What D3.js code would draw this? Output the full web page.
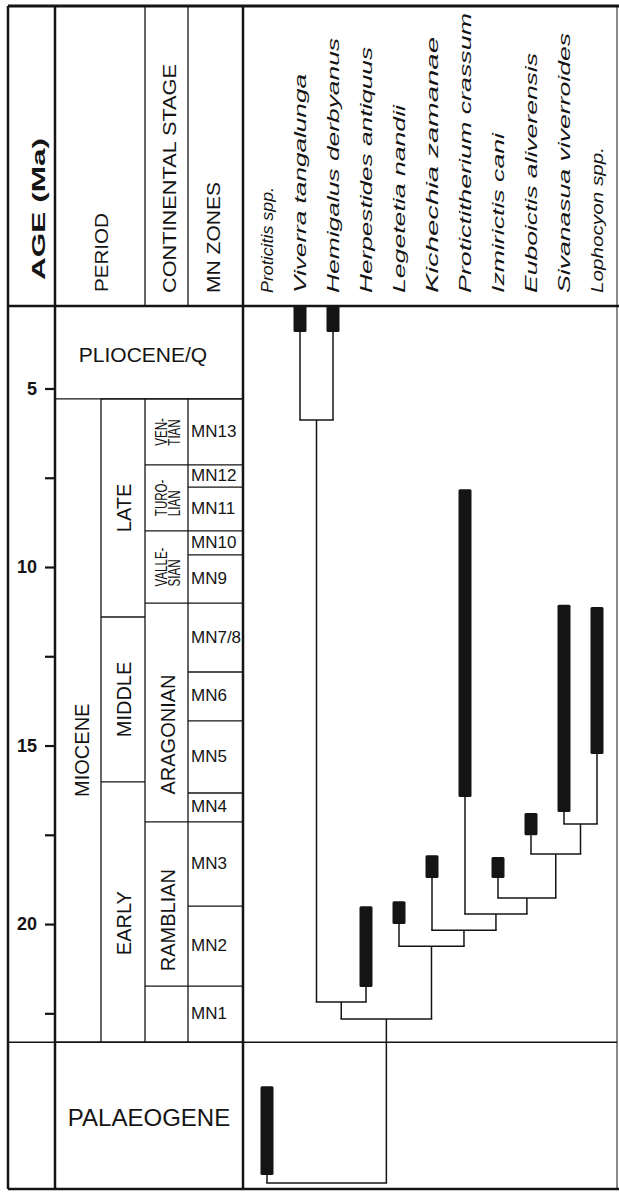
<!DOCTYPE html>
<html><head><meta charset="utf-8">
<script src="https://cdn.jsdelivr.net/npm/d3@7"></script>
<style>body{margin:0;background:#fff}svg{display:block}</style>
</head><body>
<script>
// ---------- DATA ----------
const species = ["Proticitis spp.","Viverra tangalunga","Hemigalus derbyanus","Herpestides antiquus","Legetetia nandii","Kichechia zamanae","Protictitherium crassum","Izmirictis cani","Euboictis aliverensis","Sivanasua viverroides","Lophocyon spp."];
const firstAppearance = [27.03, 3.42, 3.42, 21.76, 20.00, 18.71, 16.44, 18.71, 17.51, 16.86, 15.24];
const lastAppearance  = [24.54, 0, 0, 19.50, 19.36, 18.07, 7.82, 18.12, 16.89, 11.06, 11.12];

const nodeIds = ["VH","VHH","SL","ESL","IESL","PI","KP","LK","ING","ROOT"];
const nodeChildren = [
  ["Viverra tangalunga","Hemigalus derbyanus"],
  ["VH","Herpestides antiquus"],
  ["Sivanasua viverroides","Lophocyon spp."],
  ["Euboictis aliverensis","SL"],
  ["Izmirictis cani","ESL"],
  ["Protictitherium crassum","IESL"],
  ["Kichechia zamanae","PI"],
  ["Legetetia nandii","KP"],
  ["VHH","LK"],
  ["Proticitis spp.","ING"]
];
const nodeAges = [5.88, 22.18, 17.20, 18.04, 19.27, 19.72, 20.17, 20.62, 22.66, 27.25];

const ageTop = 2.69, ageBottom = 27.42;
const tickValues = [5, 7.5, 10, 12.5, 15, 17.5, 20, 22.5];

const periods = ["PLIOCENE/Q","MIOCENE","PALAEOGENE"];
const periodStart = [ageTop, 5.29, 23.31];
const periodEnd = [5.29, 23.31, ageBottom];

const epochs = ["LATE","MIDDLE","EARLY"];
const epochStart = [5.29, 11.40, 16.02];
const epochEnd = [11.40, 16.02, 23.31];

const stages = [["VEN-","TIAN"],["TURO-","LIAN"],["VALLE-","SIAN"],["ARAGONIAN"],["RAMBLIAN"],[]];
const stageStart = [5.29, 7.14, 8.99, 11.01, 17.14, 21.74];
const stageEnd = [7.14, 8.99, 11.01, 17.14, 21.74, 23.31];

const mnZones = ["MN13","MN12","MN11","MN10","MN9","MN7/8","MN6","MN5","MN4","MN3","MN2","MN1"];
const mnStart = [5.29, 7.14, 7.76, 8.99, 9.66, 11.01, 12.94, 14.31, 16.33, 17.14, 19.50, 21.74];
const mnEnd = [7.14, 7.76, 8.99, 9.66, 11.01, 12.94, 14.31, 16.33, 17.14, 19.50, 21.74, 23.31];

const headerLabels = ["AGE (Ma)","PERIOD","CONTINENTAL STAGE","MN ZONES"];

// ---------- STYLE / LAYOUT ----------
const W = 619, H = 1192;
const colX = {left: 8, age: 55, epoch: 101, stage: 145, mn: 188, chart: 243, right: 617};
const topY = 6, headY = 306, botY = 1189;
const ink = "#141414";
const FONT = "'Liberation Sans', Arial, Helvetica, sans-serif";
const speciesLabelLen = {"Proticitis spp.":106,"Viverra tangalunga":219,"Hemigalus derbyanus":255,"Herpestides antiquus":246,"Legetetia nandii":188,"Kichechia zamanae":256,"Protictitherium crassum":280,"Izmirictis cani":160,"Euboictis aliverensis":240,"Sivanasua viverroides":260,"Lophocyon spp.":146};
const headerStyle = [
  {x: 45, y: 280, len: 142, size: 18, weight: "bold"},
  {x: 108, y: 292, len: 79, size: 18, weight: "normal"},
  {x: 176, y: 293, len: 229, size: 18, weight: "normal"},
  {x: 220, y: 293, len: 111, size: 18, weight: "normal"}
];

const svg = d3.select("body").append("svg").attr("width", W).attr("height", H)
  .style("font-family", FONT);

const y = d3.scaleLinear().domain([ageTop, ageBottom]).range([headY, botY]).clamp(true);
const x = d3.scalePoint().domain(species).range([267, 597]);

function line(x1, y1, x2, y2, w) {
  svg.append("line").attr("x1", x1).attr("y1", y1).attr("x2", x2).attr("y2", y2)
    .attr("stroke", ink).attr("stroke-width", w || 1.3);
}
function rotText(px, py, txt, o) {
  const t = svg.append("text")
    .attr("transform", `translate(${px},${py}) rotate(-90)`)
    .attr("text-anchor", o.anchor || "start")
    .attr("font-size", o.size).attr("font-weight", o.weight || "normal")
    .attr("font-style", o.italic ? "italic" : "normal")
    .attr("fill", ink).text(txt);
  if (o.len) t.attr("textLength", o.len).attr("lengthAdjust", "spacingAndGlyphs");
  return t;
}

// ---------- header ----------
headerLabels.forEach((h, i) => {
  const s = headerStyle[i];
  rotText(s.x, s.y, h, {size: s.size, weight: s.weight, len: s.len});
});
species.forEach(s => {
  rotText(x(s) + 6, 293, s, {size: 17, italic: true, len: speciesLabelLen[s]});
});

// ---------- chronostratigraphy cells ----------
periods.forEach((p, i) => {
  const y0 = y(periodStart[i]), y1 = y(periodEnd[i]);
  if (p === "MIOCENE") {
    rotText((colX.age + colX.epoch) / 2 + 11, y1 - 292, p, {size: 20, anchor: "middle"});
  } else {
    svg.append("text").attr("x", p === "PALAEOGENE" ? 149 : 143)
      .attr("y", (y0 + y1) / 2 + 4)
      .attr("text-anchor", "middle").attr("dominant-baseline", "middle")
      .attr("font-size", p === "PALAEOGENE" ? 24 : 21).attr("fill", ink).text(p);
  }
  if (i > 0) line(colX.age, y0, colX.chart, y0, 1.3);
});
epochs.forEach((e, i) => {
  const y0 = y(epochStart[i]), y1 = y(epochEnd[i]);
  line(colX.epoch, y0, colX.stage, y0, 1.3);
  rotText((colX.epoch + colX.stage) / 2 + 8, (y0 + y1) / 2 + (i === 2 ? 11 : 0), e, {size: 20, anchor: "middle"});
});
stages.forEach((s, i) => {
  const y0 = y(stageStart[i]), y1 = y(stageEnd[i]);
  line(colX.stage, y0, colX.mn, y0, 1.3);
  const mid = (y0 + y1) / 2;
  if (s.length === 2) {
    const texts = s.map((ln, k) => rotText(colX.stage + 22 + k * 13, 0, ln, {size: 16}));
    const lens = texts.map(t => t.node().getComputedTextLength() * 0.72);
    const maxLen = d3.max(lens);
    texts.forEach((t, k) => {
      t.attr("transform", `translate(${colX.stage + 22 + k * 13},${mid + maxLen / 2}) rotate(-90)`)
        .attr("textLength", lens[k]).attr("lengthAdjust", "spacingAndGlyphs");
    });
  } else if (s.length === 1) {
    rotText((colX.stage + colX.mn) / 2 + 8, mid + (s[0] === "ARAGONIAN" ? 22 : 16), s[0], {size: 20, anchor: "middle"});
  }
});
mnZones.forEach((m, i) => {
  const y0 = y(mnStart[i]), y1 = y(mnEnd[i]);
  line(colX.mn, y0, colX.chart, y0, 1.3);
  svg.append("text").attr("x", colX.mn + 3).attr("y", (y0 + y1) / 2 + 0.5)
    .attr("dominant-baseline", "middle").attr("font-size", 17).attr("fill", ink).text(m);
});

const mio0 = y(periodStart[1]), mio1 = y(periodEnd[1]);
line(colX.epoch, mio0, colX.epoch, mio1, 1.3);
line(colX.stage, mio0, colX.stage, mio1, 1.3);
line(colX.mn, mio0, colX.mn, mio1, 1.3);
line(colX.stage, topY, colX.stage, headY, 1.3);
line(colX.mn, topY, colX.mn, headY, 1.3);
line(colX.chart, mio1, colX.right, mio1, 1.5);

// ---------- age axis ----------
const axis = svg.append("g").attr("transform", `translate(${colX.age},0)`)
  .call(d3.axisLeft(y).tickValues(tickValues).tickSize(10).tickPadding(8)
    .tickFormat(d => Number.isInteger(d) ? d : ""));
axis.select(".domain").remove();
axis.selectAll(".tick line").attr("stroke", ink).attr("stroke-width", 2.2);
axis.selectAll(".tick text").attr("fill", ink).attr("font-size", 18).attr("font-weight", "bold")
  .attr("font-family", FONT);

// ---------- tree ----------
const nodeIndex = new Map(nodeIds.map((n, i) => [n, i]));
const spIndex = new Map(species.map((s, i) => [s, i]));
function nodeX(id) {
  if (spIndex.has(id)) return x(id);
  return d3.mean(nodeChildren[nodeIndex.get(id)], nodeX);
}
function nodeBottom(id) {
  if (spIndex.has(id)) return y(firstAppearance[spIndex.get(id)]);
  return y(nodeAges[nodeIndex.get(id)]);
}
const treeG = svg.append("g");
nodeIds.forEach((id, i) => {
  const ny = y(nodeAges[i]);
  const cx = nodeChildren[i].map(nodeX);
  nodeChildren[i].forEach((c, k) => {
    treeG.append("line").attr("x1", cx[k]).attr("x2", cx[k])
      .attr("y1", nodeBottom(c)).attr("y2", ny)
      .attr("stroke", ink).attr("stroke-width", 1.5);
  });
  treeG.append("line").attr("x1", d3.min(cx) - 0.75).attr("x2", d3.max(cx) + 0.75)
    .attr("y1", ny).attr("y2", ny).attr("stroke", ink).attr("stroke-width", 1.5);
});

// ---------- range bars ----------
svg.append("g").selectAll("rect").data(species).join("rect")
  .attr("x", d => x(d) - 6.5).attr("width", 13)
  .attr("y", (d, i) => y(lastAppearance[i]))
  .attr("height", (d, i) => y(firstAppearance[i]) - y(lastAppearance[i]))
  .attr("rx", 1.5).attr("fill", ink);

// ---------- frame ----------
line(colX.left, topY, colX.right + 2, topY, 3);
line(colX.left, headY, colX.right + 2, headY, 2.5);
line(colX.left, botY, colX.right + 2, botY, 2.5);
line(colX.left, topY, colX.left, botY, 2.5);
line(colX.age, topY, colX.age, botY, 2.5);
line(colX.chart, topY, colX.chart, botY, 2.5);
line(colX.right, topY, colX.right, botY, 1);
line(colX.left, mio1, colX.chart, mio1, 1.5);
</script>
</body></html>
